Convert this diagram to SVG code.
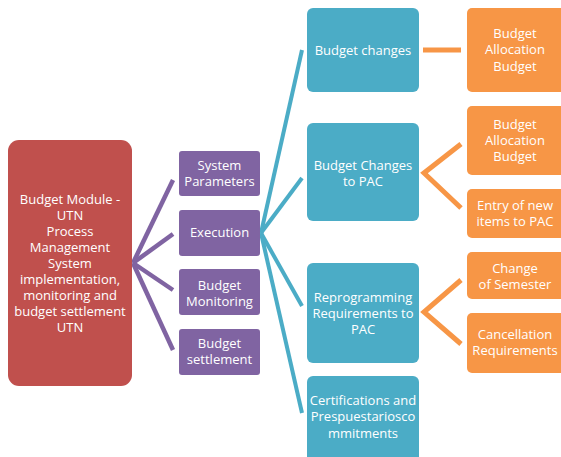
<svg xmlns="http://www.w3.org/2000/svg" width="561" height="457" viewBox="0 0 561 457">
<style>
text{font-family:"Open Sans","Liberation Sans",sans-serif;font-size:13px;fill:#fff;text-anchor:middle}
.red{fill:#C0504D}
.pur{fill:#8064A2}
.teal{fill:#4BACC6}
.ora{fill:#F79646}
.cp{stroke:#8064A2;stroke-width:4.5;fill:none}
.ct{stroke:#4BACC6;stroke-width:4;fill:none}
.co{stroke:#F79646;stroke-width:5;fill:none}
</style>
<rect width="561" height="457" fill="#fff"/>
<g id="connectors">
<line class="cp" x1="133" y1="263" x2="173" y2="180"/>
<line class="cp" x1="133" y1="263" x2="173" y2="234"/>
<line class="cp" x1="133" y1="263" x2="173" y2="290"/>
<line class="cp" x1="133" y1="263" x2="173" y2="350"/>
<line class="ct" x1="261" y1="233" x2="302" y2="50"/>
<line class="ct" x1="261" y1="233" x2="302" y2="178"/>
<line class="ct" x1="261" y1="233" x2="302" y2="306"/>
<line class="ct" x1="261" y1="233" x2="302" y2="413"/>
<line class="co" x1="423" y1="50" x2="461" y2="50"/>
<polyline class="co" points="461,144 424,173 461,208"/>
<polyline class="co" points="461,280 424,312 461,344"/>
</g>
<g id="root">
<rect class="red" x="8" y="140" width="124" height="246" rx="11"/>
<text x="70" y="204">Budget Module -</text>
<text x="70" y="220">UTN</text>
<text x="70" y="236">Process</text>
<text x="70" y="252">Management</text>
<text x="70" y="268">System</text>
<text x="70" y="284">implementation,</text>
<text x="70" y="300">monitoring and</text>
<text x="70" y="316">budget settlement</text>
<text x="70" y="332">UTN</text>
</g>
<g id="system-parameters">
<rect class="pur" x="179" y="151" width="81" height="45" rx="3"/>
<text x="219.5" y="170">System</text>
<text x="219.5" y="186">Parameters</text>
</g>
<g id="execution">
<rect class="pur" x="179" y="210" width="81" height="46" rx="3"/>
<text x="219.5" y="237">Execution</text>
</g>
<g id="budget-monitoring">
<rect class="pur" x="179" y="269" width="81" height="46" rx="3"/>
<text x="219.5" y="290">Budget</text>
<text x="219.5" y="306">Monitoring</text>
</g>
<g id="budget-settlement">
<rect class="pur" x="179" y="329" width="81" height="46" rx="3"/>
<text x="219.5" y="348">Budget</text>
<text x="219.5" y="364">settlement</text>
</g>
<g id="budget-changes">
<rect class="teal" x="307" y="8" width="112" height="84" rx="6"/>
<text x="363" y="55">Budget changes</text>
</g>
<g id="budget-changes-pac">
<rect class="teal" x="307" y="123" width="112" height="98" rx="6"/>
<text x="363" y="170">Budget Changes</text>
<text x="363" y="186">to PAC</text>
</g>
<g id="reprogramming">
<rect class="teal" x="307" y="263" width="112" height="100" rx="6"/>
<text x="363" y="302">Reprogramming</text>
<text x="363" y="318">Requirements to</text>
<text x="363" y="334">PAC</text>
</g>
<g id="certifications">
<rect class="teal" x="307" y="376" width="112" height="86" rx="6"/>
<text x="363" y="405">Certifications and</text>
<text x="363" y="421">Prespuestariosco</text>
<text x="363" y="438">mmitments</text>
</g>
<g id="allocation-1">
<rect class="ora" x="467" y="8" width="100" height="84" rx="5"/>
<text x="515" y="38">Budget</text>
<text x="515" y="54">Allocation</text>
<text x="515" y="71">Budget</text>
</g>
<g id="allocation-2">
<rect class="ora" x="467" y="106" width="100" height="69" rx="5"/>
<text x="515" y="129">Budget</text>
<text x="515" y="145">Allocation</text>
<text x="515" y="161">Budget</text>
</g>
<g id="entry-new-items">
<rect class="ora" x="467" y="189" width="100" height="49" rx="5"/>
<text x="515" y="210">Entry of new</text>
<text x="515" y="226">items to PAC</text>
</g>
<g id="change-semester">
<rect class="ora" x="467" y="252" width="100" height="47" rx="5"/>
<text x="515" y="273">Change</text>
<text x="515" y="289">of Semester</text>
</g>
<g id="cancellation">
<rect class="ora" x="467" y="313" width="100" height="60" rx="5"/>
<text x="515" y="339">Cancellation</text>
<text x="515" y="355">Requirements</text>
</g>
</svg>
